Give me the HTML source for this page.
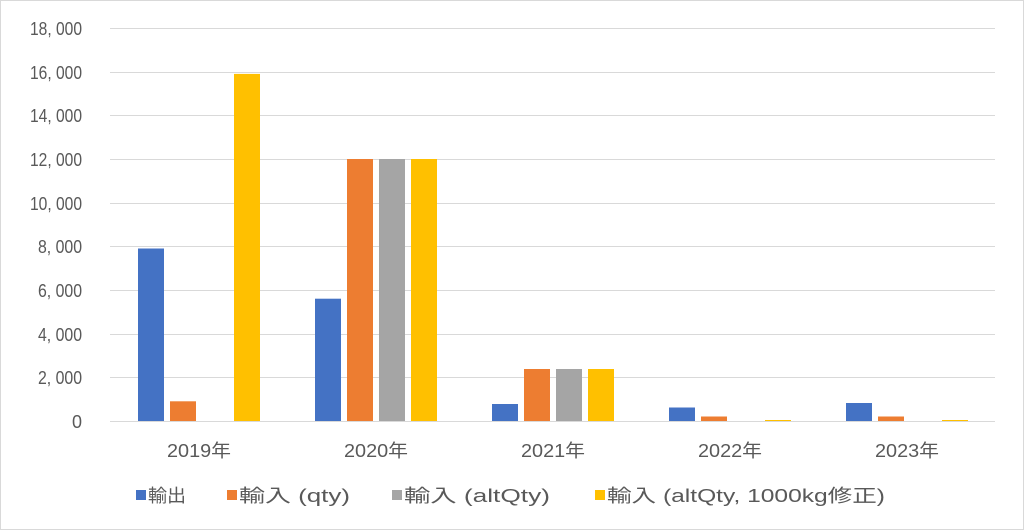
<!DOCTYPE html>
<html><head><meta charset="utf-8"><style>
html,body{margin:0;padding:0;background:#fff}
svg{display:block}
text{font-family:"Liberation Sans","Noto Sans CJK JP",sans-serif;fill:#595959;font-size:18px}
</style></head><body>
<svg width="1024" height="530" xmlns="http://www.w3.org/2000/svg">
<rect x="0.5" y="0.5" width="1023" height="529" fill="#fff" stroke="#d9d9d9"/>
<g stroke="#d9d9d9" stroke-width="1">
<line x1="110" x2="995" y1="28.5" y2="28.5"/>
<line x1="110" x2="995" y1="72.5" y2="72.5"/>
<line x1="110" x2="995" y1="115.5" y2="115.5"/>
<line x1="110" x2="995" y1="159.5" y2="159.5"/>
<line x1="110" x2="995" y1="203.5" y2="203.5"/>
<line x1="110" x2="995" y1="246.5" y2="246.5"/>
<line x1="110" x2="995" y1="290.5" y2="290.5"/>
<line x1="110" x2="995" y1="334.5" y2="334.5"/>
<line x1="110" x2="995" y1="377.5" y2="377.5"/>
</g>
<g text-anchor="end">
<text x="82" y="35" textLength="52" lengthAdjust="spacingAndGlyphs">18, 000</text>
<text x="82" y="79" textLength="52" lengthAdjust="spacingAndGlyphs">16, 000</text>
<text x="82" y="122" textLength="52" lengthAdjust="spacingAndGlyphs">14, 000</text>
<text x="82" y="166" textLength="52" lengthAdjust="spacingAndGlyphs">12, 000</text>
<text x="82" y="210" textLength="52" lengthAdjust="spacingAndGlyphs">10, 000</text>
<text x="82" y="253" textLength="44" lengthAdjust="spacingAndGlyphs">8, 000</text>
<text x="82" y="297" textLength="44" lengthAdjust="spacingAndGlyphs">6, 000</text>
<text x="82" y="341" textLength="44" lengthAdjust="spacingAndGlyphs">4, 000</text>
<text x="82" y="384" textLength="44" lengthAdjust="spacingAndGlyphs">2, 000</text>
<text x="82" y="428">0</text>
</g>
<g>
<rect x="138" y="248.5" width="26" height="172.5" fill="#4472c4"/>
<rect x="170" y="401.3" width="26" height="19.7" fill="#ed7d31"/>
<rect x="234" y="73.9" width="26" height="347.1" fill="#ffc000"/>
<rect x="315" y="298.7" width="26" height="122.3" fill="#4472c4"/>
<rect x="347" y="159" width="26" height="262" fill="#ed7d31"/>
<rect x="379" y="159" width="26" height="262" fill="#a5a5a5"/>
<rect x="411" y="159" width="26" height="262" fill="#ffc000"/>
<rect x="492" y="404" width="26" height="17" fill="#4472c4"/>
<rect x="524" y="369" width="26" height="52" fill="#ed7d31"/>
<rect x="556" y="369" width="26" height="52" fill="#a5a5a5"/>
<rect x="588" y="369" width="26" height="52" fill="#ffc000"/>
<rect x="669" y="407.5" width="26" height="13.5" fill="#4472c4"/>
<rect x="701" y="416.5" width="26" height="4.5" fill="#ed7d31"/>
<rect x="765" y="420" width="26" height="1" fill="#ffc000"/>
<rect x="846" y="403" width="26" height="18" fill="#4472c4"/>
<rect x="878" y="416.5" width="26" height="4.5" fill="#ed7d31"/>
<rect x="942" y="420" width="26" height="1" fill="#ffc000"/>
</g>
<line x1="110" x2="995" y1="421.5" y2="421.5" stroke="#d9d9d9"/>
<g>
<text x="167" y="457" textLength="64" lengthAdjust="spacingAndGlyphs">2019年</text>
<text x="344" y="457" textLength="64" lengthAdjust="spacingAndGlyphs">2020年</text>
<text x="521" y="457" textLength="64" lengthAdjust="spacingAndGlyphs">2021年</text>
<text x="698" y="457" textLength="64" lengthAdjust="spacingAndGlyphs">2022年</text>
<text x="875" y="457" textLength="64" lengthAdjust="spacingAndGlyphs">2023年</text>
</g>
<rect x="136" y="490" width="10" height="10" fill="#4472c4"/>
<text x="148" y="502" textLength="38" lengthAdjust="spacingAndGlyphs">輸出</text>
<rect x="227" y="490" width="10" height="10" fill="#ed7d31"/>
<text x="239" y="502" textLength="111" lengthAdjust="spacingAndGlyphs">輸入 (qty)</text>
<rect x="392" y="490" width="10" height="10" fill="#a5a5a5"/>
<text x="404" y="502" textLength="146" lengthAdjust="spacingAndGlyphs">輸入 (altQty)</text>
<rect x="595" y="490" width="10" height="10" fill="#ffc000"/>
<text x="607" y="502" textLength="278" lengthAdjust="spacingAndGlyphs">輸入 (altQty, 1000kg修正)</text>
</svg>
</body></html>
